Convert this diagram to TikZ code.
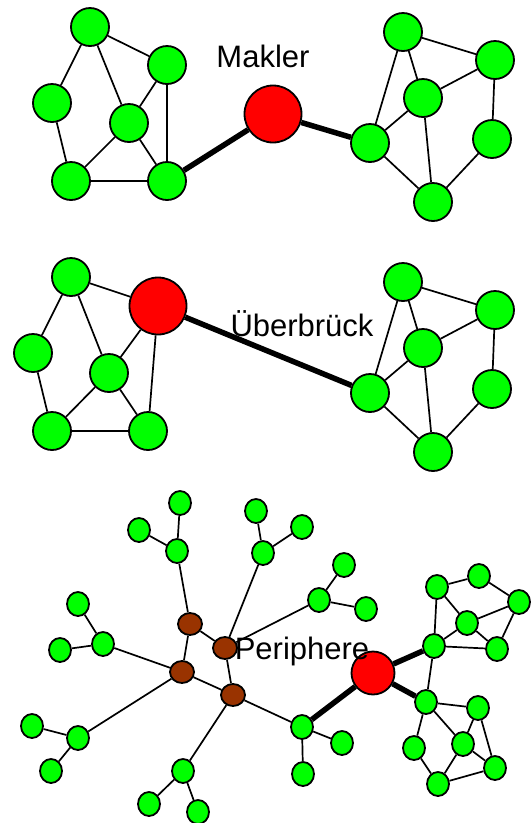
\documentclass[tikz,border=0pt]{standalone}
\usepackage{fontspec}
\setmainfont{Liberation Sans}
\usetikzlibrary{shapes.geometric}
\definecolor{gr}{RGB}{0,255,0}
\definecolor{rd}{RGB}{255,0,0}
\definecolor{br}{RGB}{153,51,0}
\tikzset{
  gc/.style={circle,draw=black,line width=1.8pt,fill=gr,minimum size=38pt,inner sep=0pt},
  rc/.style={circle,draw=black,line width=1.8pt,fill=rd,minimum size=57pt,inner sep=0pt},
  rs/.style={circle,draw=black,line width=1.8pt,fill=rd,minimum size=43pt,inner sep=0pt},
  ge/.style={ellipse,draw=black,line width=1.8pt,fill=gr,minimum width=22pt,minimum height=24pt,inner sep=0pt},
  be/.style={ellipse,draw=black,line width=1.8pt,fill=br,minimum width=24pt,minimum height=22pt,inner sep=0pt},
  thin/.style={line width=1.7pt},
  thick/.style={line width=5.5pt},
  lbl/.style={font=\fontsize{31}{36}\selectfont,inner sep=0pt}
}
\begin{document}
\begin{tikzpicture}[x=1pt,y=-1pt]
\useasboundingbox (0,0) rectangle (531,823);
% ---------- top ----------
\node[gc] (a1) at (90,27) {};
\node[gc] (a2) at (167,65) {};
\node[gc] (a3) at (52,103) {};
\node[gc] (a4) at (129,123) {};
\node[gc] (a5) at (71,181) {};
\node[gc] (a6) at (167,181) {};
\node[rc] (m) at (273,114) {};
\node[gc] (b1) at (403,32) {};
\node[gc] (b2) at (495,60) {};
\node[gc] (b3) at (423,98) {};
\node[gc] (b4) at (370,143) {};
\node[gc] (b5) at (492,139) {};
\node[gc] (b6) at (433,202) {};
\draw[thin] (a1)--(a3) (a1)--(a2) (a1)--(a4) (a2)--(a4) (a2)--(a6) (a3)--(a5) (a4)--(a5) (a4)--(a6) (a5)--(a6);
\draw[thin] (b1)--(b2) (b1)--(b4) (b1)--(b3) (b2)--(b3) (b2)--(b5) (b3)--(b4) (b3)--(b6) (b4)--(b6) (b5)--(b6);
\draw[thick] (a6)--(m);
\draw[thick] (m)--(b4);
\node[lbl] (t1) at (263,56) {Makler};
% ---------- middle ----------
\node[gc] (c1) at (71,277) {};
\node[rc] (r2) at (158,306) {};
\node[gc] (c3) at (33,353) {};
\node[gc] (c4) at (109,373) {};
\node[gc] (c5) at (52,431) {};
\node[gc] (c6) at (148,431) {};
\node[gc] (d1) at (403,282) {};
\node[gc] (d2) at (495,310) {};
\node[gc] (d3) at (423,348) {};
\node[gc] (d4) at (370,393) {};
\node[gc] (d5) at (492,389) {};
\node[gc] (d6) at (433,452) {};
\draw[thin] (c1)--(r2) (c1)--(c3) (c1)--(c4) (r2)--(c4) (r2)--(c6) (c3)--(c5) (c4)--(c5) (c4)--(c6) (c5)--(c6);
\draw[thin] (d1)--(d2) (d1)--(d4) (d1)--(d3) (d2)--(d3) (d2)--(d5) (d3)--(d4) (d3)--(d6) (d4)--(d6) (d5)--(d6);
\draw[thick] (r2)--(d4);
% ---------- bottom ----------
\node[ge] (g1) at (180,503) {};
\node[ge] (g2) at (139,530) {};
\node[ge] (g3) at (177,551) {};
\node[ge] (g4) at (256,511) {};
\node[ge] (g5) at (263,553) {};
\node[ge] (g6) at (78,604) {};
\node[ge] (g7) at (103,644) {};
\node[ge] (g8) at (60,650) {};
\node[be] (k1) at (190,624) {};
\node[be] (k2) at (225,648) {};
\node[be] (k3) at (182,672) {};
\node[be] (k4) at (233,695) {};
\node[ge] (g10) at (302,527) {};
\node[ge] (g11) at (344,565) {};
\node[ge] (g12) at (319,600) {};
\node[ge] (g13) at (366,609) {};
\node[ge] (g14) at (32,726) {};
\node[ge] (g15) at (78,738) {};
\node[ge] (g16) at (51,771) {};
\node[ge] (g17) at (183,771) {};
\node[ge] (g18) at (149,804) {};
\node[ge] (g19) at (198,812) {};
\node[ge] (g20) at (302,727) {};
\node[ge] (g21) at (342,743) {};
\node[ge] (g22) at (303,774) {};
\node[ge] (g23) at (437,587) {};
\node[ge] (g24) at (479,576) {};
\node[ge] (g25) at (519,602) {};
\node[ge] (g26) at (467,623) {};
\node[ge] (g27) at (434,646) {};
\node[ge] (g28) at (497,649) {};
\node[ge] (g29) at (426,702) {};
\node[ge] (g30) at (478,708) {};
\node[ge] (g31) at (414,748) {};
\node[ge] (g32) at (463,744) {};
\node[ge] (g33) at (495,768) {};
\node[ge] (g34) at (438,784) {};
\node[rs] (r3) at (373,673) {};
\draw[thin] (g1)--(g3) (g2)--(g3) (g3)--(k1) (g4)--(g5) (g10)--(g5) (g5)--(k2)
  (g11)--(g12) (g12)--(g13) (g12)--(k2) (k1)--(k2) (k1)--(k3)
  (g6)--(g7) (g8)--(g7) (g7)--(k3) (k3)--(k4) (k2)--(k4) (k3)--(g15) (k4)--(g17)
  (g17)--(g18) (g17)--(g19) (g14)--(g15) (g15)--(g16) (k4)--(g20)
  (g20)--(g21) (g20)--(g22)
  (g27)--(g29) (g23)--(g27) (g23)--(g24) (g24)--(g25) (g23)--(g26) (g26)--(g25)
  (g25)--(g28) (g26)--(g28) (g27)--(g28) (g27)--(g26)
  (g29)--(g30) (g29)--(g31) (g29)--(g32) (g30)--(g32) (g30)--(g33)
  (g31)--(g34) (g32)--(g34) (g34)--(g33) (g32)--(g33);
\draw[thick] (g20)--(r3) (r3)--(g27) (r3)--(g29);
\node[lbl] (t2) at (302,324) {Überbrück};
\node[lbl] (t3) at (302,651) {Periphere};
\end{tikzpicture}
\end{document}
